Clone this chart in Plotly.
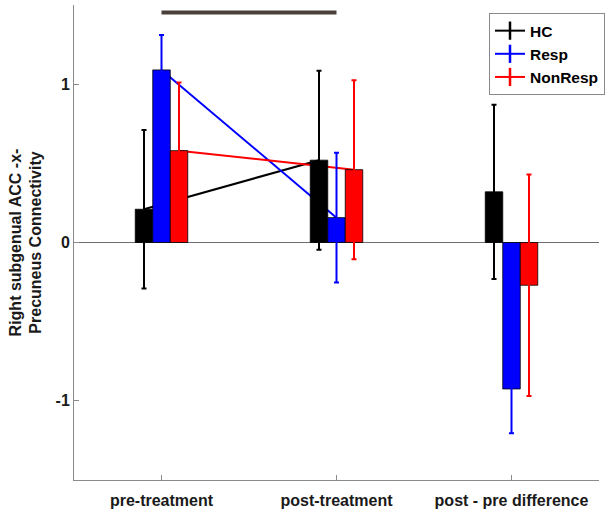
import plotly.graph_objects as go

# ---- data ----
categories = ["pre-treatment", "post-treatment", "post - pre difference"]
series = ["HC", "Resp", "NonResp"]
hc_vals = [0.21, 0.52, 0.32]
resp_vals = [1.09, 0.157, -0.925]
nonresp_vals = [0.58, 0.46, -0.27]
hc_err = [0.50, 0.565, 0.55]
resp_err = [0.22, 0.41, 0.28]
nonresp_err = [0.43, 0.565, 0.70]
sig_y = 1.453
y_ticks = [-1, 0, 1]

# ---- layout constants ----
colors = ["#000000", "#0000ff", "#ff0000"]
group_pos = [1, 2, 3]
bargap = 0.7
bw = (1 - bargap) / 3
offsets = [-bw, 0, bw]
xr = [0.5, 3.5]
yr = [-1.5, 1.5]
FONT = "Liberation Sans, Arial, sans-serif"
TXT = "#1a1a1a"

vals = [hc_vals, resp_vals, nonresp_vals]
errs = [hc_err, resp_err, nonresp_err]

fig = go.Figure()

# connecting lines (pre -> post), drawn beneath bars on main axes
for i in range(3):
    fig.add_trace(go.Scatter(
        x=[group_pos[0] + offsets[i], group_pos[1] + offsets[i]],
        y=[vals[i][0], vals[i][1]],
        mode="lines", line=dict(color=colors[i], width=2),
        showlegend=False, hoverinfo="skip", xaxis="x", yaxis="y"))

# significance bar
fig.add_trace(go.Scatter(
    x=[group_pos[0], group_pos[1]],
    y=[sig_y, sig_y], mode="lines",
    line=dict(color="#4a4039", width=4),
    showlegend=False, hoverinfo="skip", xaxis="x", yaxis="y"))

# bars on overlay axes (drawn on top of lines)
for i in range(3):
    fig.add_trace(go.Bar(
        x=group_pos, y=vals[i], name=series[i],
        marker=dict(color=colors[i], line=dict(color="#000000", width=0.8)),
        error_y=dict(type="data", array=errs[i], symmetric=True,
                     color=colors[i], thickness=2, width=2.5),
        showlegend=False, xaxis="x2", yaxis="y2"))

# legend-only entries that mimic errorbar glyphs
for i in range(3):
    fig.add_trace(go.Scatter(
        x=[None], y=[None], name="<b>" + series[i] + "</b>",
        mode="lines+markers",
        line=dict(color=colors[i], width=2),
        marker=dict(symbol="line-ns-open", size=13,
                    line=dict(color=colors[i], width=2.5)),
        xaxis="x", yaxis="y"))

axis_col = "#8a8a8a"
fig.update_layout(
    width=605, height=515,
    margin=dict(l=74, r=0, t=5, b=35),
    paper_bgcolor="white", plot_bgcolor="white",
    barmode="group", bargap=bargap, bargroupgap=0,
    font=dict(family=FONT, size=16, color=TXT),
    xaxis=dict(range=xr, tickvals=group_pos,
               ticktext=["<b>" + c + "</b>" for c in categories],
               ticks="inside", ticklen=5, tickcolor=axis_col,
               showline=True, linecolor=axis_col, linewidth=1,
               showgrid=False, zeroline=False, ticklabelstandoff=6,
               tickfont=dict(family=FONT, size=16, color=TXT)),
    yaxis=dict(range=yr, tickvals=y_ticks,
               ticktext=["<b>" + str(t) + "</b>" for t in y_ticks],
               ticks="inside", ticklen=5, tickcolor=axis_col,
               showline=True, linecolor=axis_col, linewidth=1,
               showgrid=False, zeroline=True, zerolinecolor="#6e6e6e",
               zerolinewidth=1, ticklabelstandoff=0,
               tickfont=dict(family=FONT, size=16, color=TXT),
               title=dict(text="<b>Right subgenual ACC -x-<br>Precuneus Connectivity</b>",
                          font=dict(family=FONT, size=16, color=TXT),
                          standoff=9)),
    xaxis2=dict(range=xr, overlaying="x", visible=False),
    yaxis2=dict(range=yr, overlaying="y", visible=False),
    legend=dict(x=0.791, y=0.983, xanchor="left", yanchor="top",
                bgcolor="white", bordercolor="#8a8a8a", borderwidth=1,
                font=dict(family=FONT, size=15.5, color="#000000"),
                itemwidth=30, tracegroupgap=0),
    showlegend=True,
)

fig.write_html("out.html")
